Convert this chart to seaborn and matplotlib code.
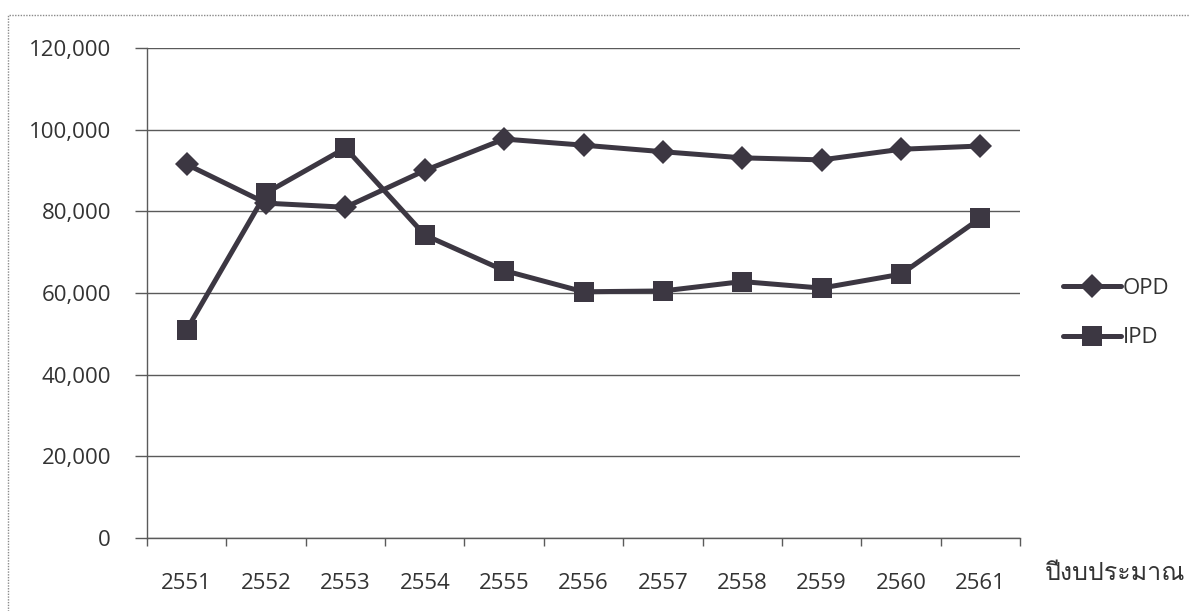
import matplotlib
matplotlib.use("Agg")
import matplotlib.pyplot as plt
from matplotlib import font_manager
from matplotlib.ft2font import FT2Font
from matplotlib.patches import Rectangle
from matplotlib.lines import Line2D
import pandas as pd
import seaborn as sns

# Budget years (Thai Buddhist calendar) and patient counts
years = ["2551", "2552", "2553", "2554", "2555", "2556",
         "2557", "2558", "2559", "2560", "2561"]
opd = [91500, 82000, 81000, 90000, 97700, 96200,
       94600, 93100, 92600, 95200, 96000]
ipd = [51000, 84500, 95500, 74200, 65500, 60300,
       60500, 62800, 61200, 64600, 78300]
series_names = ["OPD", "IPD"]
y_ticks = [0, 20000, 40000, 60000, 80000, 100000, 120000]
x_title = "ปีงบประมาณ"


def find_thai_family():
    for fe in font_manager.fontManager.ttflist:
        try:
            if 0x0E1B in FT2Font(fe.fname).get_charmap():
                return fe.name
        except Exception:
            continue
    return None


sns.set_theme(style="white")
thai = find_thai_family()
families = ["Open Sans", "DejaVu Sans"]
if thai:
    families.append(thai)
plt.rcParams["font.family"] = families

INK = "#3c3742"
TXT = "#333333"
GRID = "#5a5a5a"
FS = 16

df = pd.DataFrame({
    "pos": list(range(len(years))) * 2,
    "value": opd + ipd,
    "series": [series_names[0]] * len(years) + [series_names[1]] * len(years),
})

W, H = 1190, 611
fig = plt.figure(figsize=(W / 100, H / 100), dpi=100)

# outer chart frame
fig.patches.append(Rectangle((8 / W, -0.05), 1.2, 1 - 15 / H + 0.05,
                             transform=fig.transFigure, fill=False,
                             edgecolor="#8a8a8a", linewidth=1.0,
                             linestyle=(0, (1, 1))))

ax = fig.add_axes([147 / W, (H - 538) / H, (1020 - 147) / W, (538 - 48) / H])

sns.lineplot(data=df, x="pos", y="value", hue="series", style="series",
             markers={"OPD": "D", "IPD": "s"}, dashes=False,
             palette={"OPD": INK, "IPD": INK}, linewidth=3.6,
             markersize=11, markeredgewidth=0, ax=ax, legend=False)
for ln, ms in zip(ax.get_lines(), [12.5, 14]):
    ln.set_markersize(ms)

ax.set_xlim(-0.5, len(years) - 0.5)
ax.set_ylim(0, 120000)
ax.set_yticks(y_ticks)
ax.set_yticklabels([f"{v:,}" for v in y_ticks])
ax.set_xticks(range(len(years)))
ax.set_xticklabels(years)
ax.set_xticks([i - 0.5 for i in range(len(years) + 1)], minor=True)
ax.set_xlabel("")
ax.set_ylabel("")

ax.tick_params(axis="x", which="major", length=0, pad=25,
               labelsize=FS, labelcolor=TXT)
ax.tick_params(axis="x", which="minor", length=6, width=1,
               color=GRID, direction="out", bottom=True)
ax.tick_params(axis="y", length=9, width=1, color=GRID, pad=17,
               direction="out", left=True, labelsize=FS, labelcolor=TXT)

ax.yaxis.grid(True, color=GRID, linewidth=1.0)
ax.set_axisbelow(True)
for side in ["top", "right"]:
    ax.spines[side].set_visible(False)
for side in ["left", "bottom"]:
    ax.spines[side].set_color(GRID)
    ax.spines[side].set_linewidth(1.0)

handles = [
    Line2D([], [], color=INK, linewidth=3.6, marker="D", markersize=12.5,
           markeredgewidth=0),
    Line2D([], [], color=INK, linewidth=3.6, marker="s", markersize=14,
           markeredgewidth=0),
]
fig.legend(handles, series_names, loc="center left",
           bbox_to_anchor=(1043 / W, 1 - 313 / H), frameon=False,
           fontsize=FS, labelcolor=TXT, handlelength=2.6,
           handletextpad=0.1, labelspacing=1.3)

fig.text(1045 / W, 1 - 574 / H, x_title, fontsize=18, color=TXT,
         ha="left", va="center")

fig.savefig("out.png", dpi=100)
